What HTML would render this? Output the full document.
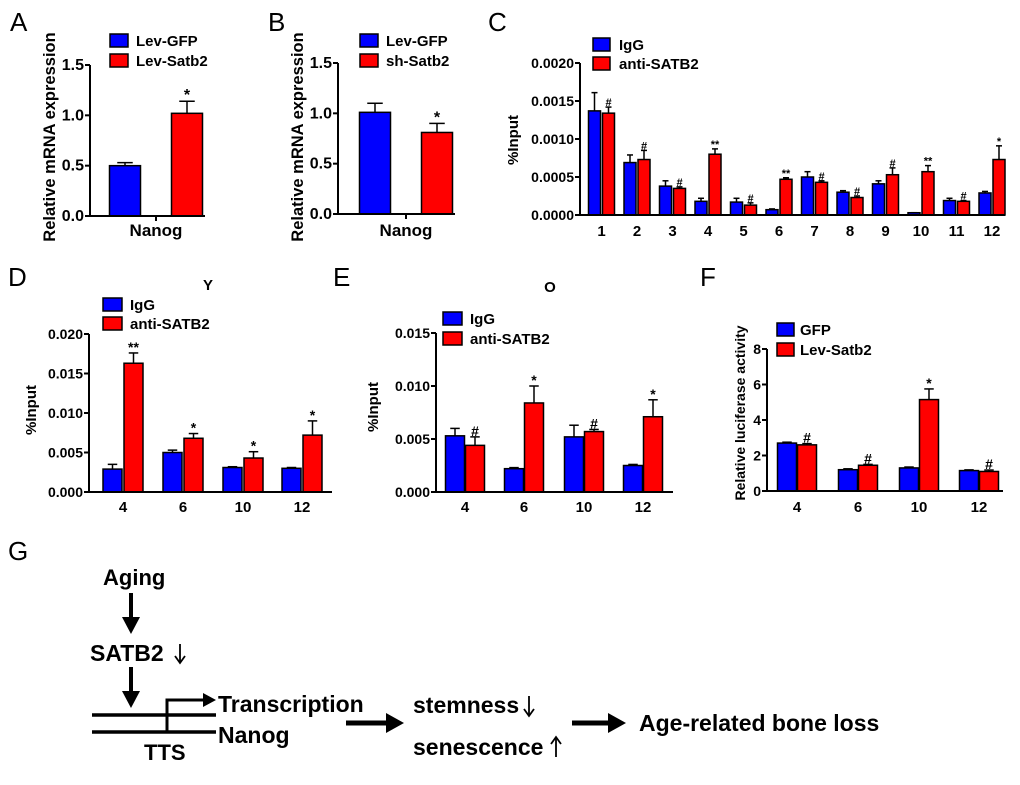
<!DOCTYPE html>
<html><head><meta charset="utf-8"><style>
html,body{margin:0;padding:0;background:#fff}
svg{display:block}
text{font-family:"Liberation Sans",Arial,sans-serif}
</style></head><body>
<svg id="fig" width="1020" height="785" viewBox="0 0 1020 785" xmlns="http://www.w3.org/2000/svg">
<g id="charts"></g>
<g id="diagram" font-weight="bold" font-size="23">
  <text x="8" y="560" font-size="26" font-weight="normal">G</text>
  <text x="103" y="585" font-size="22">Aging</text>
  <line x1="131" y1="593" x2="131" y2="622" stroke="#000" stroke-width="4"/>
  <polygon points="122,617 140,617 131,634" fill="#000"/>
  <text x="90" y="661" font-size="23">SATB2</text>
  <g stroke="#000" stroke-width="1.8" fill="none">
    <line x1="180" y1="644" x2="180" y2="662"/><polyline points="175,656 180,663 185,656"/>
  </g>
  <line x1="131" y1="667" x2="131" y2="696" stroke="#000" stroke-width="4"/>
  <polygon points="122,691 140,691 131,708" fill="#000"/>
  <line x1="92" y1="715" x2="216" y2="715" stroke="#000" stroke-width="3.5"/>
  <line x1="92" y1="732" x2="216" y2="732" stroke="#000" stroke-width="3.5"/>
  <polyline points="167,732 167,700 205,700" fill="none" stroke="#000" stroke-width="3"/>
  <polygon points="203,693 216,700 203,707" fill="#000"/>
  <text x="218" y="712">Transcription</text>
  <text x="218" y="743">Nanog</text>
  <text x="144" y="760" font-size="22">TTS</text>
  <line x1="346" y1="723" x2="390" y2="723" stroke="#000" stroke-width="5"/>
  <polygon points="386,713 404,723 386,733" fill="#000"/>
  <text x="413" y="713">stemness</text>
  <g stroke="#000" stroke-width="1.8" fill="none">
    <line x1="529" y1="696" x2="529" y2="715"/><polyline points="524,709 529,716 534,709"/>
  </g>
  <text x="413" y="755">senescence</text>
  <g stroke="#000" stroke-width="1.8" fill="none">
    <line x1="556" y1="738" x2="556" y2="757"/><polyline points="551,744 556,737 561,744"/>
  </g>
  <line x1="572" y1="723" x2="612" y2="723" stroke="#000" stroke-width="5"/>
  <polygon points="608,713 626,723 608,733" fill="#000"/>
  <text x="639" y="731">Age-related bone loss</text>
</g>
</svg>
<script>
// ---- data ----
const aCategories = ["Nanog"];
const aSeries1 = [0.50]; const aErr1 = [0.03];
const aSeries2 = [1.02]; const aErr2 = [0.12];
const aMarks2 = ["*"];
const aTicks = [0, 0.5, 1.0, 1.5]; const aTickLabels = ["0.0","0.5","1.0","1.5"];

const bCategories = ["Nanog"];
const bSeries1 = [1.01]; const bErr1 = [0.09];
const bSeries2 = [0.81]; const bErr2 = [0.09];
const bMarks2 = ["*"];
const bTicks = [0, 0.5, 1.0, 1.5]; const bTickLabels = ["0.0","0.5","1.0","1.5"];

const cCategories = ["1","2","3","4","5","6","7","8","9","10","11","12"];
const cSeries1 = [0.00137,0.00069,0.00038,0.00018,0.00017,0.00007,0.00050,0.00030,0.00041,0.00003,0.00019,0.00029];
const cErr1 = [0.00024,0.00010,0.00007,0.00004,0.00005,0.00001,0.00007,0.00002,0.00004,0.00000,0.00003,0.00002];
const cSeries2 = [0.00134,0.00073,0.00035,0.00080,0.00013,0.00047,0.00043,0.00023,0.00053,0.00057,0.00018,0.00073];
const cErr2 = [0.00008,0.00012,0.00002,0.00007,0.00003,0.00002,0.00002,0.00002,0.00009,0.00008,0.00001,0.00018];
const cMarks2 = ["#","#","#","**","#","**","#","#","#","**","#","*"];
const cTicks = [0,0.0005,0.0010,0.0015,0.0020]; const cTickLabels = ["0.0000","0.0005","0.0010","0.0015","0.0020"];

const dCategories = ["4","6","10","12"];
const dSeries1 = [0.0029,0.0050,0.0031,0.0030]; const dErr1 = [0.0006,0.0003,0.0001,0.0001];
const dSeries2 = [0.0163,0.0068,0.0043,0.0072]; const dErr2 = [0.0013,0.0006,0.0008,0.0018];
const dMarks2 = ["**","*","*","*"];
const dTicks = [0,0.005,0.010,0.015,0.020]; const dTickLabels = ["0.000","0.005","0.010","0.015","0.020"];

const eCategories = ["4","6","10","12"];
const eSeries1 = [0.0053,0.0022,0.0052,0.0025]; const eErr1 = [0.0007,0.0001,0.0011,0.0001];
const eSeries2 = [0.0044,0.0084,0.0057,0.0071]; const eErr2 = [0.0008,0.0016,0.0002,0.0016];
const eMarks2 = ["#","*","#","*"];
const eTicks = [0,0.005,0.010,0.015]; const eTickLabels = ["0.000","0.005","0.010","0.015"];

const fCategories = ["4","6","10","12"];
const fSeries1 = [2.70,1.20,1.30,1.15]; const fErr1 = [0.05,0.05,0.05,0.04];
const fSeries2 = [2.60,1.45,5.15,1.10]; const fErr2 = [0.07,0.05,0.60,0.08];
const fMarks2 = ["#","#","*","#"];
const fTicks = [0,2,4,6,8]; const fTickLabels = ["0","2","4","6","8"];

// ---- rendering ----
const NS = "http://www.w3.org/2000/svg";
const root = document.getElementById("charts");
function mk(tag, attrs, parent){
  const e = document.createElementNS(NS, tag);
  for (const k in attrs) e.setAttribute(k, attrs[k]);
  parent.appendChild(e); return e;
}
function panel(p){
  const g = mk("g", {}, root);
  
  
  const ymax = p.ticks[p.ticks.length-1];
  const yScale = v => p.y0 - (v / ymax) * (p.y0 - p.yTop);
  const xScale = i => p.centers[i];
  const L = mk("text", {x:p.letter[0], y:p.letter[1], "font-size":26}, g); L.textContent = p.letterText;
  
  
  if (p.title){ const t = mk("text",{x:p.title[0],y:p.title[1],"font-size":15,"font-weight":"bold","text-anchor":"middle"},g); t.textContent=p.title[2];
    
     }
  const draw = (vals, errs, off, color, marks, sname) => {
    vals.forEach((v,i)=>{
      const cx = xScale(i) + off, top = yScale(v);
      const et = yScale(v + errs[i]);
      const el = mk("line",{x1:cx,x2:cx,y1:top,y2:et,stroke:"#000","stroke-width":1.5},g);
      
      
      const cap = mk("line",{x1:cx-p.bw/4,x2:cx+p.bw/4,y1:et,y2:et,stroke:"#000","stroke-width":1.5},g);
      
      
      const r = mk("rect",{x:cx-p.bw/2,y:top,width:p.bw,height:p.y0-top,fill:color,stroke:"#000","stroke-width":1.5},g);
      
      
      if (marks){ const m = mk("text",{x:cx,y:et-1,"font-size":p.markSize,"font-weight":"bold","text-anchor":"middle"},g); m.textContent = marks[i];
        
         }
    });
  };
  draw(p.s1, p.e1, -p.off, "#0000ff", null, "series1");
  draw(p.s2, p.e2, p.off, "#ff0000", p.marks, "series2");
  const ya = mk("line",{x1:p.ax,x2:p.ax,y1:p.yTop,y2:p.y0+1,stroke:"#000","stroke-width":2},g);
  
  
  const xa = mk("line",{x1:p.ax-1,x2:p.xEnd,y1:p.y0,y2:p.y0,stroke:"#000","stroke-width":2},g);
  
  
  p.ticks.forEach((t,i)=>{
    const y = yScale(t);
    const tl = mk("line",{x1:p.ax-5,x2:p.ax,y1:y,y2:y,stroke:"#000","stroke-width":2},g);
    
    
    const tx = mk("text",{x:p.ax-6,y:y+5,"font-size":p.tickSize,"font-weight":"bold","text-anchor":"end"},g); tx.textContent = p.tickLabels[i];
    
    
  });
  p.cats.forEach((c,i)=>{
    const x = xScale(i);
    if (p.xTicks){ const tl = mk("line",{x1:x,x2:x,y1:p.y0,y2:p.y0+5,stroke:"#000","stroke-width":2},g);
      
       }
    const tx = mk("text",{x:x,y:p.xLabelY,"font-size":p.xLabelSize,"font-weight":"bold","text-anchor":"middle"},g); tx.textContent = c;
    
    
  });
  const yl = mk("text",{x:0,y:0,"font-size":p.ylSize,"font-weight":"bold","text-anchor":"middle",transform:`translate(${p.yl[0]},${p.yl[1]}) rotate(-90)`},g);
  yl.textContent = p.ylabel;
  
  
  [["#0000ff",p.leg[0]],["#ff0000",p.leg[1]]].forEach((it,k)=>{
    const y = p.legY[k];
    const sq = mk("rect",{x:p.legX,y:y,width:p.legW,height:13,fill:it[0],stroke:"#000","stroke-width":1.5},g);
    
    
    const tx = mk("text",{x:p.legTX,y:y+12,"font-size":15,"font-weight":"bold"},g); tx.textContent = it[1];
    
    
  });
}
const cCenters = cCategories.map((_,i)=>601.5+35.5*i);
panel({id:"a",letterText:"A",letter:[10,31],cats:aCategories,s1:aSeries1,e1:aErr1,s2:aSeries2,e2:aErr2,marks:aMarks2,ticks:aTicks,tickLabels:aTickLabels,
  ax:90,y0:216,yTop:65,xEnd:205,centers:[156],off:31,bw:31,markSize:16,tickSize:16,xTicks:true,xLabelY:236,xLabelSize:17,
  ylabel:"Relative mRNA expression",ylSize:16.5,yl:[55,137],leg:["Lev-GFP","Lev-Satb2"],legX:110,legW:18,legY:[34,54],legTX:136});
panel({id:"b",letterText:"B",letter:[268,31],cats:bCategories,s1:bSeries1,e1:bErr1,s2:bSeries2,e2:bErr2,marks:bMarks2,ticks:bTicks,tickLabels:bTickLabels,
  ax:338,y0:214,yTop:63,xEnd:455,centers:[406],off:31,bw:31,markSize:16,tickSize:16,xTicks:true,xLabelY:236,xLabelSize:17,
  ylabel:"Relative mRNA expression",ylSize:16.5,yl:[303,137],leg:["Lev-GFP","sh-Satb2"],legX:360,legW:18,legY:[34,54],legTX:386});
panel({id:"c",letterText:"C",letter:[488,31],cats:cCategories,s1:cSeries1,e1:cErr1,s2:cSeries2,e2:cErr2,marks:cMarks2,ticks:cTicks,tickLabels:cTickLabels,
  ax:580,y0:215,yTop:63,xEnd:1005,centers:cCenters,off:7,bw:12,markSize:11,tickSize:14,xTicks:false,xLabelY:236,xLabelSize:15,
  ylabel:"%Input",ylSize:15,yl:[518,140],leg:["IgG","anti-SATB2"],legX:593,legW:17,legY:[38,57],legTX:619});
panel({id:"d",letterText:"D",letter:[8,286],title:[208,290,"Y"],cats:dCategories,s1:dSeries1,e1:dErr1,s2:dSeries2,e2:dErr2,marks:dMarks2,ticks:dTicks,tickLabels:dTickLabels,
  ax:89,y0:492,yTop:334,xEnd:332,centers:[123,183,243,302],off:10.5,bw:19,markSize:14,tickSize:14,xTicks:false,xLabelY:512,xLabelSize:15,
  ylabel:"%Input",ylSize:15,yl:[36,410],leg:["IgG","anti-SATB2"],legX:103,legW:19,legY:[298,317],legTX:130});
panel({id:"e",letterText:"E",letter:[333,286],title:[550,292,"O"],cats:eCategories,s1:eSeries1,e1:eErr1,s2:eSeries2,e2:eErr2,marks:eMarks2,ticks:eTicks,tickLabels:eTickLabels,
  ax:436,y0:492,yTop:333,xEnd:673,centers:[465,524,584,643],off:10,bw:19,markSize:14,tickSize:14,xTicks:false,xLabelY:512,xLabelSize:15,
  ylabel:"%Input",ylSize:15,yl:[378,407],leg:["IgG","anti-SATB2"],legX:443,legW:19,legY:[312,332],legTX:470});
panel({id:"f",letterText:"F",letter:[700,286],cats:fCategories,s1:fSeries1,e1:fErr1,s2:fSeries2,e2:fErr2,marks:fMarks2,ticks:fTicks,tickLabels:fTickLabels,
  ax:767,y0:491,yTop:349,xEnd:1003,centers:[797,858,919,979],off:10,bw:19,markSize:14,tickSize:14,xTicks:false,xLabelY:512,xLabelSize:15,
  ylabel:"Relative luciferase activity",ylSize:14,yl:[745,413],leg:["GFP","Lev-Satb2"],legX:777,legW:17,legY:[323,343],legTX:800});
</script>
</body></html>
